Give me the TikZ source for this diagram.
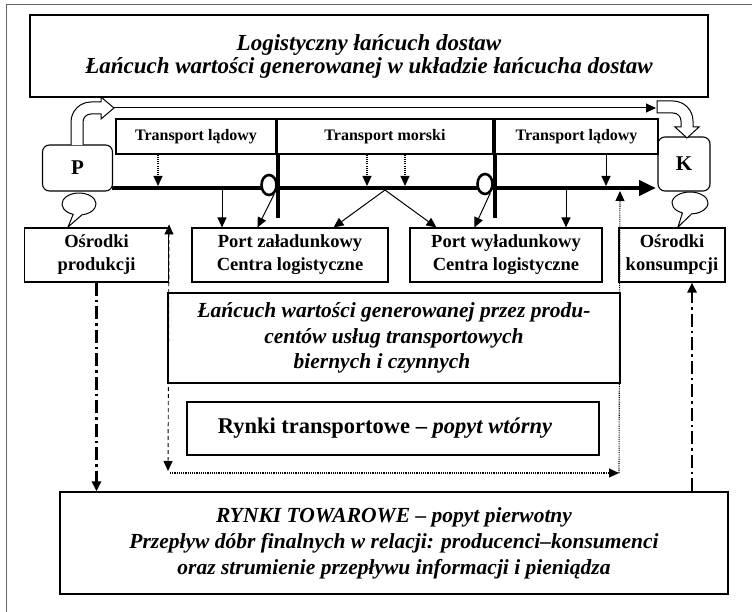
\documentclass[tikz,border=0pt]{standalone}
\usepackage{fontspec}
\setmainfont{Liberation Serif}
\usetikzlibrary{arrows.meta,shapes.geometric}

\newcommand\ftop{\fontsize{23}{23}\selectfont\bfseries\itshape}
\newcommand\fbig{\fontsize{21.5}{25.5}\selectfont\bfseries\itshape}
\newcommand\fbot{\fontsize{21.5}{26}\selectfont\bfseries\itshape}
\newcommand\fmid{\fontsize{18.5}{23}\selectfont\bfseries}
\newcommand\fsml{\fontsize{16}{18}\selectfont\bfseries}
\newcommand\fkey{\fontsize{21}{25}\selectfont\bfseries}
\newcommand\frt{\fontsize{22.5}{26}\selectfont\bfseries}

\begin{document}
\begin{tikzpicture}[x=1pt, y=-1pt, line width=1pt, >={Triangle[length=10pt,width=9pt]},
	box/.style={draw, line width=1.1pt, align=center, inner sep=0pt},
	rbox/.style={box, rounded corners=7pt},
	ring/.style={draw, ellipse, line width=2.6pt, fill=white, minimum width=15pt, minimum height=20pt, inner sep=0pt},
	flow/.style={line width=4.5pt},
	dotline/.style={line width=1.1pt, dash pattern=on 1.1pt off 1.1pt},
	dashline/.style={line width=0.9pt, dash pattern=on 4pt off 3pt},
	dashdotline/.style={line width=2.6pt, dash pattern=on 13pt off 4pt on 2.5pt off 4pt},
	bubble/.style={draw, fill=white, line width=1pt}]
				\useasboundingbox (0,0) rectangle (752,612);
				\draw[black!60] (6,612) -- (6,5) -- (752,5);
				
				\path (369,56) node[box, minimum width=678pt, minimum height=82pt, font=\ftop] (top) {Logistyczny łańcuch dostaw\\Łańcuch wartości generowanej w układzie łańcucha dostaw}
				(196,136.5) node[box, minimum width=160pt, minimum height=35pt, font=\fsml] (tl1) {Transport lądowy}
				(385,136.5) node[box, minimum width=216pt, minimum height=35pt, font=\fsml] (tm) {Transport morski}
				(576.5,136.5) node[box, minimum width=163pt, minimum height=35pt, font=\fsml] (tl2) {Transport lądowy}
				(77.5,168) node[rbox, minimum width=70pt, minimum height=46pt, font=\fkey] (P) {P}
				(684,164) node[rbox, minimum width=52pt, minimum height=54pt, font=\fkey] (K) {K}
				(96.5,255) node[box, minimum width=144pt, minimum height=54pt, font=\fmid] (op) {Ośrodki\\produkcji}
				(290,255) node[box, minimum width=196pt, minimum height=54pt, font=\fmid] (pz) {Port załadunkowy\\Centra logistyczne}
				(506,255) node[box, minimum width=192pt, minimum height=54pt, font=\fmid] (pw) {Port wyładunkowy\\Centra logistyczne}
				(672,255) node[box, minimum width=106pt, minimum height=54pt, font=\fmid] (ok) {Ośrodki\\konsumpcji}
				(394,338) node[box, minimum width=452pt, minimum height=90pt, font=\fbig] (lw) {Łańcuch wartości generowanej przez produ-\\centów usług transportowych\\biernych i czynnych\hspace*{24pt}}
				(393,428.5) node[box, minimum width=412pt, minimum height=53pt, font=\frt] (rt) {Rynki transportowe – \textit{popyt wtórny}\hspace*{16pt}}
				(394,543) node[box, minimum width=668pt, minimum height=102pt, font=\fbot] (rto) {RYNKI TOWAROWE – popyt pierwotny\\Przepływ dóbr finalnych w relacji: producenci–konsumenci\\oraz strumienie przepływu informacji i pieniądza};
				
				\coordinate (s) at (112,188);
				\coordinate (e) at (656,188);
				\coordinate (pa) at (114,108);
				\coordinate (ka) at (656,108);
				\coordinate (k1) at (158,186);
				\coordinate (k2) at (367,186);
				\coordinate (k3) at (405,186);
				\coordinate (k4) at (606,186);
				\coordinate (j1) at (222,190);
				\coordinate (j2) at (385,190);
				\coordinate (j3) at (566,190);
				\coordinate (d1) at (168,471);
				\coordinate (d3) at (170,473);
				\coordinate (d4) at (619,473);
				\coordinate (d5) at (620,191);
				
				\draw[flow, -{Triangle[length=17pt,width=15pt]}] (s) -- (e);
				\node[ring] (c1) at (269,185) {};
				\node[ring] (c2) at (485,184) {};
				\draw[flow] (278,155) -- (278,218) (495,155) -- (495,218);
				
				\draw[bubble] (71,145) -- (71,122) arc[start angle=180, end angle=270, radius=20] -- (101,102) -- (101,97) -- (pa) -- (101,119) -- (101,114) -- (91,114) arc[start angle=270, end angle=180, radius=8] -- (83,145);
				\draw[bubble] (657,101) -- (673,101) arc[start angle=270, end angle=360, radius=20] -- (693,127) -- (699,127) -- (687,138) -- (675,127) -- (681,127) -- (681,121) arc[start angle=360, end angle=270, radius=8] -- (657,113) -- cycle;
				\draw[bubble] (79,204) ++(110:17 and 11) arc[start angle=110, end angle=440, x radius=17, y radius=11] -- (68,227) -- cycle;
				\draw[bubble] (690,203) ++(115:18 and 11) arc[start angle=115, end angle=445, x radius=18, y radius=11] -- (678,227) -- cycle;
				
				\draw[->] (pa) -- (ka);
				\draw[dotline, ->] (k1 |- tl1.south) -- (k1);
				\draw[dotline, ->] (k2 |- tm.south) -- (k2);
				\draw[dotline, ->] (k3 |- tm.south) -- (k3);
				\draw[->] (k4 |- tl2.south) -- (k4);
				\draw[->] (j1) -- (j1 |- pz.north);
				\draw[->] (c1.300) -- ([xshift=66pt]pz.north west);
				\draw[->] (j2) -- ([xshift=-55pt]pz.north east);
				\draw[->] (j2) -- ([xshift=27pt]pw.north west);
				\draw[->] (c2.300) -- ([xshift=65pt]pw.north west);
				\draw[->] (j3) -- (j3 |- pw.north);
				
				\draw[dashline, <->] (d1) -- ([yshift=3pt]op.north east);
				\draw[dotline, ->] (d3) -- (d4);
				\draw[dotline, ->] (d4) -- (d5);
				\draw[dashdotline, ->] (op.south) -- (op.south |- rto.north);
				\draw[dashdotline, ->] ([xshift=20pt]ok.south |- rto.north) -- ([xshift=20pt]ok.south);
			\end{tikzpicture}
\end{document}
